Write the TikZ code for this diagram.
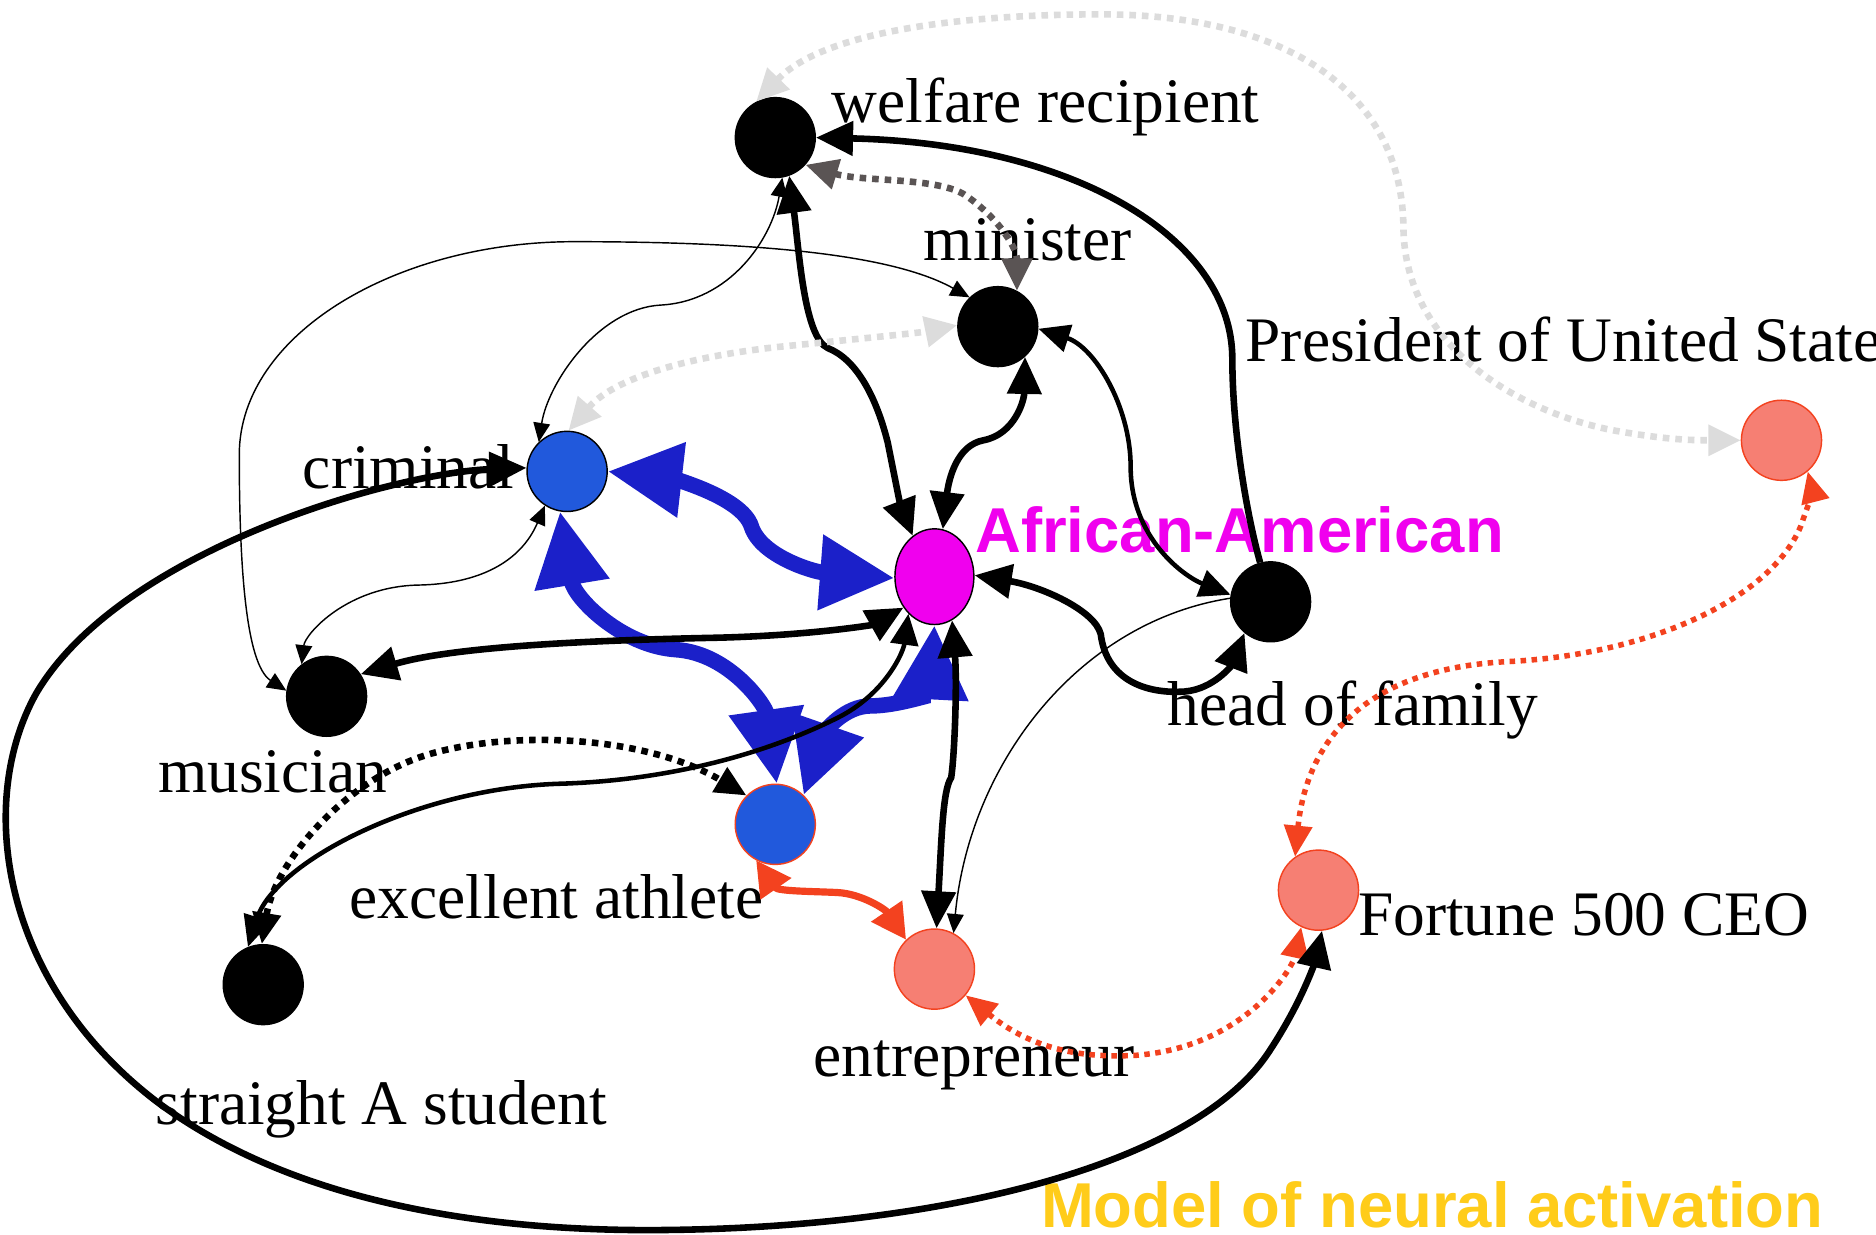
\documentclass[tikz,border=0pt]{standalone}
\usepackage{fontspec}
\setmainfont{Liberation Serif}
\newfontfamily\arialf{Liberation Sans}
\usetikzlibrary{arrows.meta,shapes.geometric}
\definecolor{nblue}{HTML}{2159DC}
\definecolor{eblue}{HTML}{1B20C9}
\definecolor{mag}{HTML}{F000EE}
\definecolor{salm}{HTML}{F67F73}
\definecolor{ored}{HTML}{F3421F}
\definecolor{lgray}{HTML}{DCDCDC}
\definecolor{dgray}{HTML}{5A5454}
\definecolor{gold}{HTML}{FFCC1A}
\tikzset{
 blk/.style={circle,minimum size=67pt,inner sep=0pt,fill=black,draw=black,line width=1pt},
 bluen/.style={circle,minimum size=67pt,inner sep=0pt,fill=nblue,draw=black,line width=1.2pt},
 bluered/.style={bluen,draw=ored},
 salmn/.style={circle,minimum size=67pt,inner sep=0pt,fill=salm,draw=ored,line width=1.2pt},
 magn/.style={ellipse,minimum width=66pt,minimum height=80pt,inner sep=0pt,fill=mag,draw=black,line width=1.2pt},
 lab/.style={inner sep=0pt,anchor=base west,font=\fontsize{53pt}{60pt}\selectfont},
 hlab/.style={inner sep=0pt,anchor=base west,font=\arialf\bfseries\fontsize{53pt}{60pt}\selectfont},
 tK/.tip={Triangle[length=31pt,width=28pt]},
 tM/.tip={Triangle[length=26pt,width=23pt]},
 tT/.tip={Triangle[length=16pt,width=14pt]},
 tB/.tip={Triangle[length=62pt,width=60pt]},
 tR/.tip={Triangle[length=29pt,width=30pt]},
 tD/.tip={Triangle[length=27pt,width=25pt]},
 tRD/.tip={Triangle[length=26pt,width=23pt]},
 thickE/.style={line width=5.5pt,draw=black},
 medE/.style={line width=3.8pt,draw=black},
 thinE/.style={line width=1.2pt,draw=black},
 blueE/.style={line width=13pt,draw=eblue},
 redE/.style={line width=6pt,draw=ored},
 dotE/.style={line width=5.5pt,dash pattern=on 5.5pt off 5pt},
 reddotE/.style={line width=4.6pt,dash pattern=on 4.6pt off 4.6pt,draw=ored},
}
\begin{document}
\begin{tikzpicture}[x=1pt,y=-1pt]
\path[use as bounding box] (0,0) rectangle (1568,1032);
\clip (0,0) rectangle (1568,1032);
\fill[white] (0,0) rectangle (1568,1032);
% labels
\node[lab] (Lw) at (695,102) {welfare recipient};
\node[lab] (Lmi) at (772,218) {minister};
\node[lab] (Lp) at (1041,302) {President of United States};
\node[lab] (Lc) at (253,408) {criminal};
\node[hlab,text=mag] (Laa) at (815,462) {African-American};
\node[lab] (Lh) at (976,606) {head of family};
\node[lab] (Lmu) at (132,662) {musician};
\node[lab] (Le) at (292,768) {excellent athlete};
\node[lab] (Lf) at (1135,782) {Fortune 500 CEO};
\node[lab] (Len) at (680,900) {entrepreneur};
\node[lab] (Ls) at (130,940) {straight A student};
\node[hlab,text=gold] (Lm) at (870,1026) {Model of neural activation};
% nodes
\node[blk] (W) at (648,115) {};
\node[blk] (Mi) at (834,273) {};
\node[salmn] (P) at (1489,368) {};
\node[bluen] (C) at (474,394) {};
\node[magn] (AA) at (781,482) {};
\node[blk] (H) at (1062,503) {};
\node[blk] (Mu) at (273,582) {};
\node[bluered] (E) at (648,689) {};
\node[salmn] (En) at (781,810) {};
\node[salmn] (F) at (1102,744) {};
\node[blk] (S) at (220,823) {};
% edges
\draw[dotE,lgray,tD-tD] (W.118) .. controls (690,25) and (810,12) .. (920,12) .. controls (1080,12) and (1172,80) .. (1173,190) .. controls (1174,290) and (1270,345) .. (1350,360) .. controls (1390,367) and (1410,368) .. (P.180);
\draw[dotE,dgray,tD-tD] (W.-42) .. controls (720,152) and (780,148) .. (805,162) .. controls (830,178) and (850,205) .. (Mi.62);
\draw[thickE,-tK] (H.105) .. controls (1042,430) and (1030,360) .. (1030,300) .. controls (1030,200) and (900,120) .. (W.0);
\draw[thickE,tK-tK] (W.-70) .. controls (668,210) and (672,282) .. (692,291) .. controls (715,300) and (732,330) .. (742,370) .. controls (748,400) and (752,420) .. (AA.118);
\draw[thickE,tK-tK] (AA.80) .. controls (793,400) and (800,372) .. (822,368) .. controls (848,363) and (856,335) .. (Mi.-48);
\draw[medE,tM-tM] (Mi.-3) .. controls (915,290) and (945,340) .. (945,390) .. controls (945,450) and (990,482) .. (H.170);
\draw[thinE,tT-tT] (Mi.134) .. controls (750,215) and (650,202) .. (480,202) .. controls (330,202) and (200,280) .. (200,380) .. controls (200,470) and (205,555) .. (Mu.172);
\draw[thinE,tT-tT] (C.134) .. controls (458,320) and (500,258) .. (552,255) .. controls (610,252) and (645,200) .. (W.-80);
\draw[dotE,lgray,tD-tD] (C.88) .. controls (510,320) and (560,300) .. (650,290) .. controls (720,283) and (770,278) .. (Mi.178);
\draw[blueE,tB-tB] (C.0) .. controls (560,400) and (620,415) .. (628,440) .. controls (636,465) and (680,478) .. (AA.182);
\draw[blueE,tB-tB] (C.-100) .. controls (480,500) and (520,540) .. (565,543) .. controls (610,546) and (640,590) .. (E.88);
\draw[blueE,tB-tB] (AA.-90) .. controls (778,580) and (750,590) .. (728,590) .. controls (705,590) and (690,612) .. (E.46);
\draw[thinE,tT-tT] (C.-123) .. controls (435,470) and (400,488) .. (350,489) .. controls (290,490) and (255,530) .. (Mu.128);
\draw[thickE,tK-tK] (Mu.33) .. controls (380,540) and (500,535) .. (600,533) .. controls (680,531) and (730,522) .. (AA.-135);
\draw[medE,tM-tM] (S.112) .. controls (230,720) and (350,658) .. (470,655) .. controls (560,652) and (640,630) .. (700,600) .. controls (740,580) and (755,545) .. (AA.-125);
\draw[dotE,black,tM-tM] (S.92) .. controls (230,720) and (290,650) .. (360,630) .. controls (430,610) and (540,615) .. (E.135);
\draw[redE,tR-tR] (E.-118) .. controls (650,745) and (680,745) .. (700,746) .. controls (720,747) and (740,760) .. (En.134);
\draw[thickE,tK-tK] (AA.-68) .. controls (800,570) and (798,630) .. (795,650) .. controls (788,660) and (787,700) .. (En.87);
\draw[thinE,-tT] (H.175) .. controls (900,520) and (810,640) .. (En.62);
\draw[thickE,tK-tK] (AA.2) .. controls (870,490) and (915,510) .. (920,530) .. controls (925,570) and (960,580) .. (990,578) .. controls (1015,576) and (1030,555) .. (H.-130);
\draw[reddotE,tRD-tRD] (F.125) .. controls (1090,640) and (1120,560) .. (1260,553) .. controls (1380,547) and (1480,500) .. (1505,440) .. controls (1512,420) and (1515,410) .. (P.-50);
\draw[reddotE,tRD-tRD] (En.-40) .. controls (860,875) and (900,885) .. (950,882) .. controls (1040,875) and (1080,810) .. (F.-115);
\draw[thickE,tK-tK] (C.175) .. controls (330,395) and (100,460) .. (30,580) .. controls (-20,670) and (0,820) .. (130,920) .. controls (250,1010) and (420,1030) .. (560,1028) .. controls (800,1025) and (1000,970) .. (1060,880) .. controls (1090,835) and (1100,800) .. (F.-85);
\end{tikzpicture}
\end{document}
